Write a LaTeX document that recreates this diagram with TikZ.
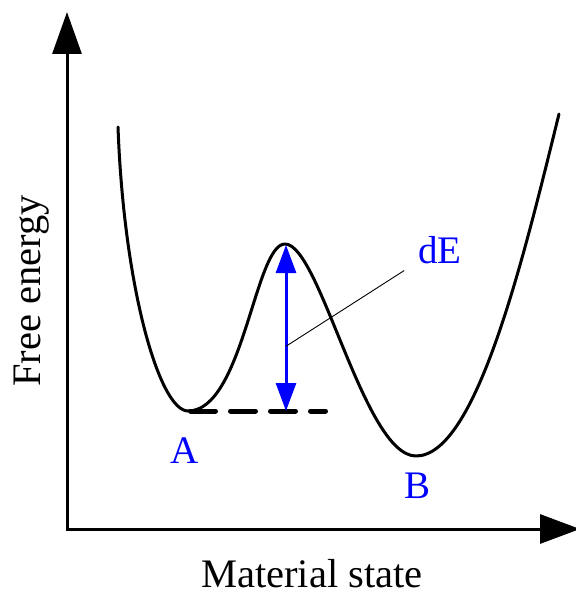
\documentclass[tikz,border=0pt]{standalone}
\usepackage{fontspec}
\setmainfont{Liberation Serif}
\definecolor{markblue}{HTML}{0000FF}
\usetikzlibrary{arrows.meta,calc}
\tikzset{
  axis/.style={line width=3pt,{Triangle[length=42pt,width=29pt]}-{Triangle[length=40pt,width=29pt]}},
  energy/.style={line width=3pt,line join=round,line cap=round},
  level/.style={line width=5pt,line cap=round,dash pattern=on 25pt off 15pt},
  barrier/.style={draw=markblue,line width=3pt,{Triangle[length=28pt,width=20pt]}-{Triangle[length=28pt,width=20pt]}},
  leader/.style={line width=0.9pt},
  lbl/.style={font=\fontsize{39}{47}\selectfont,inner sep=0pt,anchor=base},
  axislbl/.style={lbl,font=\fontsize{40.5}{48}\selectfont},
  statelbl/.style={lbl,text=markblue},
}

\begin{document}
\begin{tikzpicture}[x=1pt,y=-1pt]
  \useasboundingbox (0,0) rectangle (575,591);
  % axes
  \coordinate (origin) at (67,529);
  \coordinate (ytop) at (67,12);
  \coordinate (xend) at (580,529);
  \draw[axis] (ytop) -- (origin) -- (xend);
  \node[axislbl,rotate=90] (ylabel) at (40,291) {Free energy};
  \node[axislbl] (xlabel) at (312,587) {Material state};
  % energy landscape
  \coordinate (start) at (118,127);
  \coordinate (minA) at (188,411);
  \coordinate (peak) at (285,244);
  \coordinate (minB) at (416,456);
  \coordinate (stop) at (559,114);
  \draw[energy] (start) .. controls (124,290) and (160,411) .. (minA)
    .. controls (243,411) and (255,244) .. (peak)
    .. controls (320,244) and (364,456) .. (minB)
    .. controls (476,456) and (523,260) .. (stop);
  \coordinate (levelstart) at (190.5,411);
  \coordinate (levelend) at (325.5,411);
  \draw[level] (levelstart) -- (levelend);
  % barrier height
  \coordinate (top) at (286,245);
  \draw[barrier] (top) -- (top |- levelstart);
  \node[statelbl] (dE) at (440,263) {dE};
  \coordinate (pointer) at ($(dE.south west)+(-14,7)$);
  \draw[leader] ($(top)!0.61!(top |- levelstart)$) -- (pointer);
  % states
  \node[statelbl] (A) at (185,463) {A};
  \node[statelbl] (B) at (417,498) {B};
\end{tikzpicture}
\end{document}
